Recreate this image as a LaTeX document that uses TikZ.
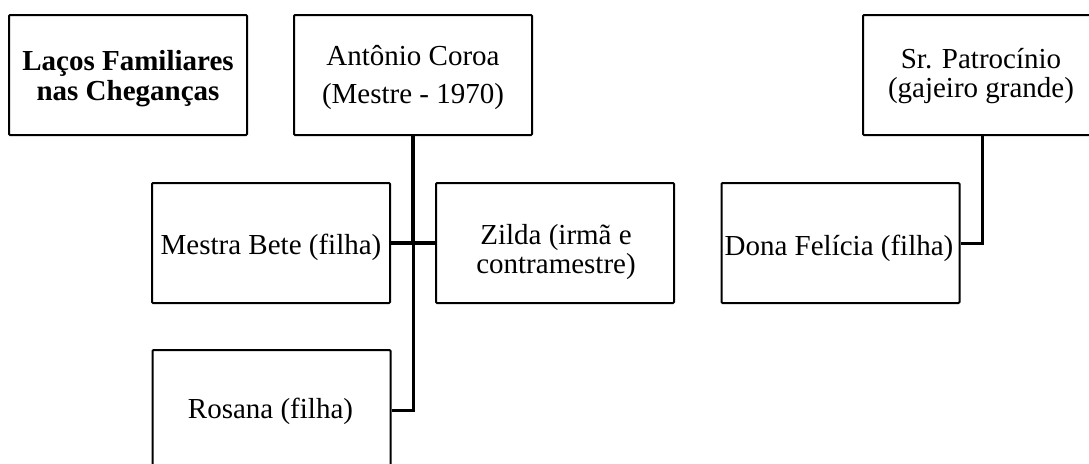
\documentclass[tikz,border=0pt]{standalone}
\usepackage{fontspec}
\setmainfont{Liberation Serif}
\begin{document}
\begin{tikzpicture}[x=1pt,y=-1pt,
  box/.style={draw=black,line width=2pt,rounded corners=1pt,minimum width=238pt,minimum height=120pt,inner sep=0pt},
  txt/.style={anchor=base,inner sep=0pt,font=\fontsize{29}{33}\selectfont},
  btxt/.style={txt,font=\fontsize{29}{33}\selectfont\bfseries},
  conn/.style={line width=3pt,black},
  connthick/.style={line width=4pt,black}]
\useasboundingbox (0,0) rectangle (1089,463);
% boxes
\node[box] (t) at (128,75) {};
\node[box] (a) at (413,75) {};
\node[box] (p) at (982,75) {};
\node[box] (b) at (271,243) {};
\node[box] (z) at (555,243) {};
\node[box] (f) at (840.5,243) {};
\node[box] (r) at (271.5,410) {};
% texts
\node[btxt] (t1) at (128,70) {Laços Familiares};
\node[btxt] (t2) at (128,100) {nas Cheganças};
\node[txt] (a1) at (413,65) {Antônio Coroa};
\node[txt] (a2) at (413,103) {(Mestre - 1970)};
\node[txt] (p1) at (981,68) {Sr. Patrocínio};
\node[txt] (p2) at (981,97) {(gajeiro grande)};
\node[txt] (b1) at (271,254) {Mestra Bete (filha)};
\node[txt] (z1) at (556,244) {Zilda (irmã e};
\node[txt] (z2) at (556,273) {contramestre)};
\node[txt] (f1) at (839,255) {Dona Felícia (filha)};
\node[txt] (r1) at (270.5,418) {Rosana (filha)};
% connectors
\coordinate (j) at (a.south |- b.east);
\draw[connthick] (a.south) -- (j);
\draw[connthick] (b.east) -- (z.west);
\draw[conn] (j) |- (r.east);
\draw[conn] (p.south) |- (f.east);
\end{tikzpicture}
\end{document}
